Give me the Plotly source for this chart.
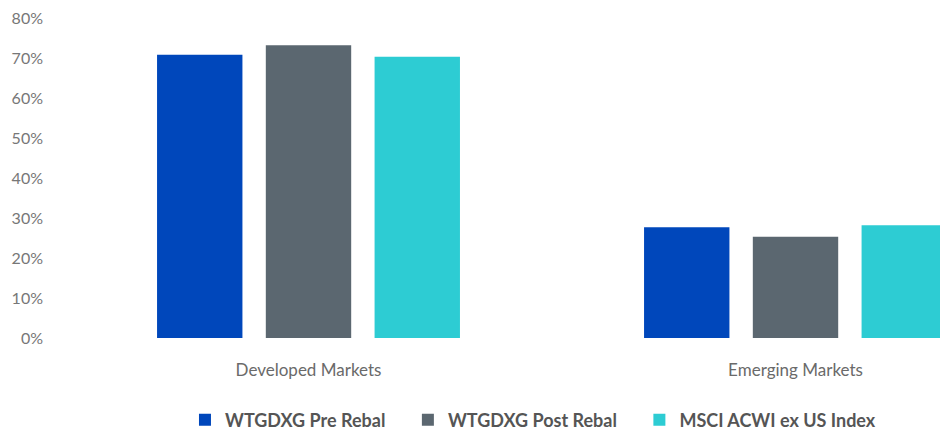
import plotly.graph_objects as go

categories = ["Developed Markets", "Emerging Markets"]
series_names = ["WTGDXG Pre Rebal", "WTGDXG Post Rebal", "MSCI ACWI ex US Index"]
pre_rebal = [0.708, 0.277]
post_rebal = [0.732, 0.253]
msci_acwi = [0.703, 0.282]
colors = ["#0047BB", "#5B6770", "#2DCCD3"]
y_ticks = [0, 0.1, 0.2, 0.3, 0.4, 0.5, 0.6, 0.7, 0.8]

pad = "\u00a0" * 4
fig = go.Figure()
for i, (name, vals, col) in enumerate(zip(series_names, [pre_rebal, post_rebal, msci_acwi], colors)):
    label = name + (pad if i < len(series_names) - 1 else "")
    fig.add_trace(go.Bar(x=categories, y=vals, name=label, marker=dict(color=col, line=dict(width=0))))

fig.update_layout(
    width=940, height=430,
    margin=dict(l=65, r=0, t=18, b=92),
    paper_bgcolor="white", plot_bgcolor="white",
    barmode="group", bargap=0.33, bargroupgap=0.215,
    font=dict(family="Lato, sans-serif", color="#666666"),
    xaxis=dict(range=[-0.5, 1.2967], showgrid=False, showline=False, zeroline=False,
               tickfont=dict(size=17, color="#6a6a6a"), ticklabelstandoff=20),
    yaxis=dict(range=[0, 0.8], tickvals=y_ticks, tickformat=".0%", showgrid=False,
               showline=False, zeroline=False, tickfont=dict(size=16, color="#777777"),
               ticklabelstandoff=21, ticklabeloverflow="allow"),
    legend=dict(orientation="h", xref="container", x=0.567, xanchor="center",
                yref="container", y=0.023, yanchor="middle",
                font=dict(size=18, color="#555555", family="Lato, sans-serif", weight="bold"),
                itemwidth=30, traceorder="normal"),
)
fig.write_html("out.html", config={"displayModeBar": False},
               post_script="document.body.style.margin='0';document.body.style.overflow='hidden';")
